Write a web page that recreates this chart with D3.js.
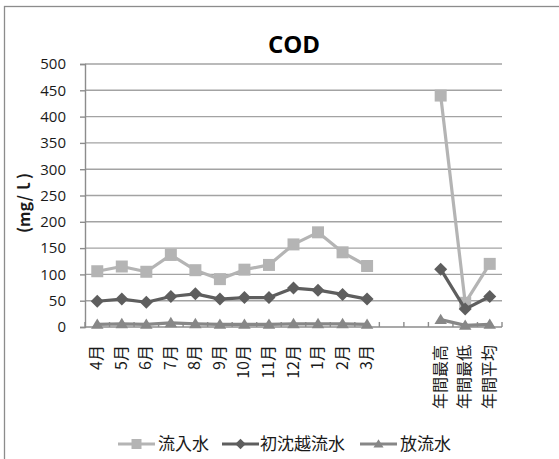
<!DOCTYPE html>
<html>
<head>
<meta charset="utf-8">
<script src="https://cdn.jsdelivr.net/npm/d3@7"></script>
<style>
  html, body { margin: 0; padding: 0; background: #fff; }
  svg { display: block; }
</style>
</head>
<body>
<svg id="chart" width="559" height="459"></svg>
<script>
// Categories: 12 months, two spacer slots, then annual stats
const months = ["4月", "5月", "6月", "7月", "8月", "9月", "10月", "11月", "12月", "1月", "2月", "3月"];
const spacers = ["_a", "_b"];
const annual = ["年間最高", "年間最低", "年間平均"];
const categories = months.concat(spacers, annual);

const yTicks = [0, 50, 100, 150, 200, 250, 300, 350, 400, 450, 500];

// COD values (mg/l)
const inflowMonthly = [106, 115, 105, 137, 108, 91, 109, 118, 157, 180, 142, 116];
const inflowAnnual = [440, 46, 120];
const overflowMonthly = [49, 53, 47, 58, 63, 53, 56, 56, 74, 70, 62, 53];
const overflowAnnual = [110, 34, 58];
const effluentMonthly = [5, 6, 5, 8, 6, 5, 5, 5, 6, 6, 6, 5];
const effluentAnnual = [14, 3, 5];

const seriesNames = ["流入水", "初沈越流水", "放流水"];

const series = [
  { name: seriesNames[0], monthly: inflowMonthly, annual: inflowAnnual, color: "#b4b4b4", marker: "square" },
  { name: seriesNames[1], monthly: overflowMonthly, annual: overflowAnnual, color: "#5e5e5e", marker: "diamond" },
  { name: seriesNames[2], monthly: effluentMonthly, annual: effluentAnnual, color: "#878787", marker: "triangle" }
];

const svg = d3.select("#chart");
const plot = { left: 85, right: 502, top: 64, bottom: 327 };

const jpFont = "'Noto Sans CJK JP', 'Noto Sans', sans-serif";
const numFont = "'Open Sans', 'Liberation Sans', sans-serif";

// Outer chart frame
svg.append("rect")
  .attr("x", 4.5).attr("y", 6.5)
  .attr("width", 620).attr("height", 620)
  .attr("fill", "#fff")
  .attr("stroke", "#8c8c8c").attr("stroke-width", 1.3);

const x = d3.scaleBand().domain(categories).range([plot.left, plot.right]).paddingInner(0).paddingOuter(0);
const y = d3.scaleLinear().domain([0, 500]).range([plot.bottom, plot.top]);

// Horizontal gridlines
svg.append("g")
  .selectAll("line")
  .data(yTicks.filter(d => d > 0))
  .join("line")
  .attr("x1", plot.left).attr("x2", plot.right)
  .attr("y1", d => y(d)).attr("y2", d => y(d))
  .attr("stroke", "#a3a3a3").attr("stroke-width", 1.4);

// Y axis
const yAxis = svg.append("g")
  .attr("transform", `translate(${plot.left},0)`)
  .call(d3.axisLeft(y).tickValues(yTicks).tickSize(5).tickPadding(14));
yAxis.select(".domain").attr("stroke", "#8c8c8c").attr("stroke-width", 1.4);
yAxis.selectAll(".tick line").attr("stroke", "#8c8c8c").attr("stroke-width", 1.4);
yAxis.selectAll(".tick text")
  .attr("font-family", numFont).attr("font-size", 15).attr("fill", "#1a1a1a");

// X axis: boundary ticks pointing up into the plot
const xg = svg.append("g");
xg.append("line")
  .attr("x1", plot.left).attr("x2", plot.right)
  .attr("y1", plot.bottom).attr("y2", plot.bottom)
  .attr("stroke", "#8c8c8c").attr("stroke-width", 1.4);
const boundaries = categories.map(c => x(c)).concat([x(categories[categories.length - 1]) + x.bandwidth()]);
xg.selectAll("line.tk")
  .data(boundaries)
  .join("line")
  .attr("class", "tk")
  .attr("x1", d => d).attr("x2", d => d)
  .attr("y1", plot.bottom).attr("y2", plot.bottom - 5)
  .attr("stroke", "#8c8c8c").attr("stroke-width", 1.4);

// Category labels, rotated to read bottom-to-top
xg.selectAll("text")
  .data(months.concat(annual))
  .join("text")
  .attr("transform", d => `translate(${x(d) + x.bandwidth() / 2 + 5},${plot.bottom + 18}) rotate(-90)`)
  .attr("text-anchor", "end")
  .attr("font-family", jpFont).attr("font-size", 16).attr("fill", "#1a1a1a")
  .text(d => d);

// Title
svg.append("text")
  .attr("x", 294).attr("y", 53)
  .attr("text-anchor", "middle")
  .attr("font-family", numFont).attr("font-weight", "bold").attr("font-size", 24)
  .attr("fill", "#000")
  .text("COD");

// Y axis title
svg.append("text")
  .attr("transform", `translate(30,203) rotate(-90)`)
  .attr("text-anchor", "middle")
  .attr("font-family", jpFont).attr("font-weight", "bold").attr("font-size", 16)
  .attr("fill", "#1a1a1a")
  .text("(mg/ｌ)");

// Marker shapes
function markerPath(type, s) {
  if (type === "square") return `M${-s},${-s}H${s}V${s}H${-s}Z`;
  if (type === "diamond") return `M0,${-s * 1.25}L${s * 1.25},0L0,${s * 1.25}L${-s * 1.25},0Z`;
  return `M0,${-s * 1.15}L${s * 1.2},${s * 0.85}L${-s * 1.2},${s * 0.85}Z`;
}

const line = d3.line().x(d => x(d.cat) + x.bandwidth() / 2).y(d => y(d.v));

const marks = svg.append("g");
series.forEach(s => {
  const seg1 = months.map((c, i) => ({ cat: c, v: s.monthly[i] }));
  const seg2 = annual.map((c, i) => ({ cat: c, v: s.annual[i] }));
  const g = marks.append("g");
  [seg1, seg2].forEach(seg => {
    g.append("path")
      .attr("d", line(seg))
      .attr("fill", "none")
      .attr("stroke", s.color).attr("stroke-width", 3.2)
      .attr("stroke-linejoin", "round");
  });
  g.selectAll("path.mk")
    .data(seg1.concat(seg2))
    .join("path")
    .attr("class", "mk")
    .attr("transform", d => `translate(${x(d.cat) + x.bandwidth() / 2},${y(d.v)})`)
    .attr("d", markerPath(s.marker, s.marker === "square" ? 6 : 5.2))
    .attr("fill", s.color);
});

// Legend
const legendItems = [
  { s: series[0], x: 118, tx: 158 },
  { s: series[1], x: 222, tx: 260 },
  { s: series[2], x: 360, tx: 400 }
];
const lg = svg.append("g");
legendItems.forEach(it => {
  const cy = 444;
  lg.append("line")
    .attr("x1", it.x).attr("x2", it.x + 37)
    .attr("y1", cy).attr("y2", cy)
    .attr("stroke", it.s.color).attr("stroke-width", 3.2);
  lg.append("path")
    .attr("transform", `translate(${it.x + 18.5},${cy})`)
    .attr("d", markerPath(it.s.marker, it.s.marker === "square" ? 5 : 4.2))
    .attr("fill", it.s.color);
  lg.append("text")
    .attr("x", it.tx).attr("y", cy + 6)
    .attr("font-family", jpFont).attr("font-size", 17).attr("fill", "#1a1a1a")
    .text(it.s.name);
});
</script>
</body>
</html>
